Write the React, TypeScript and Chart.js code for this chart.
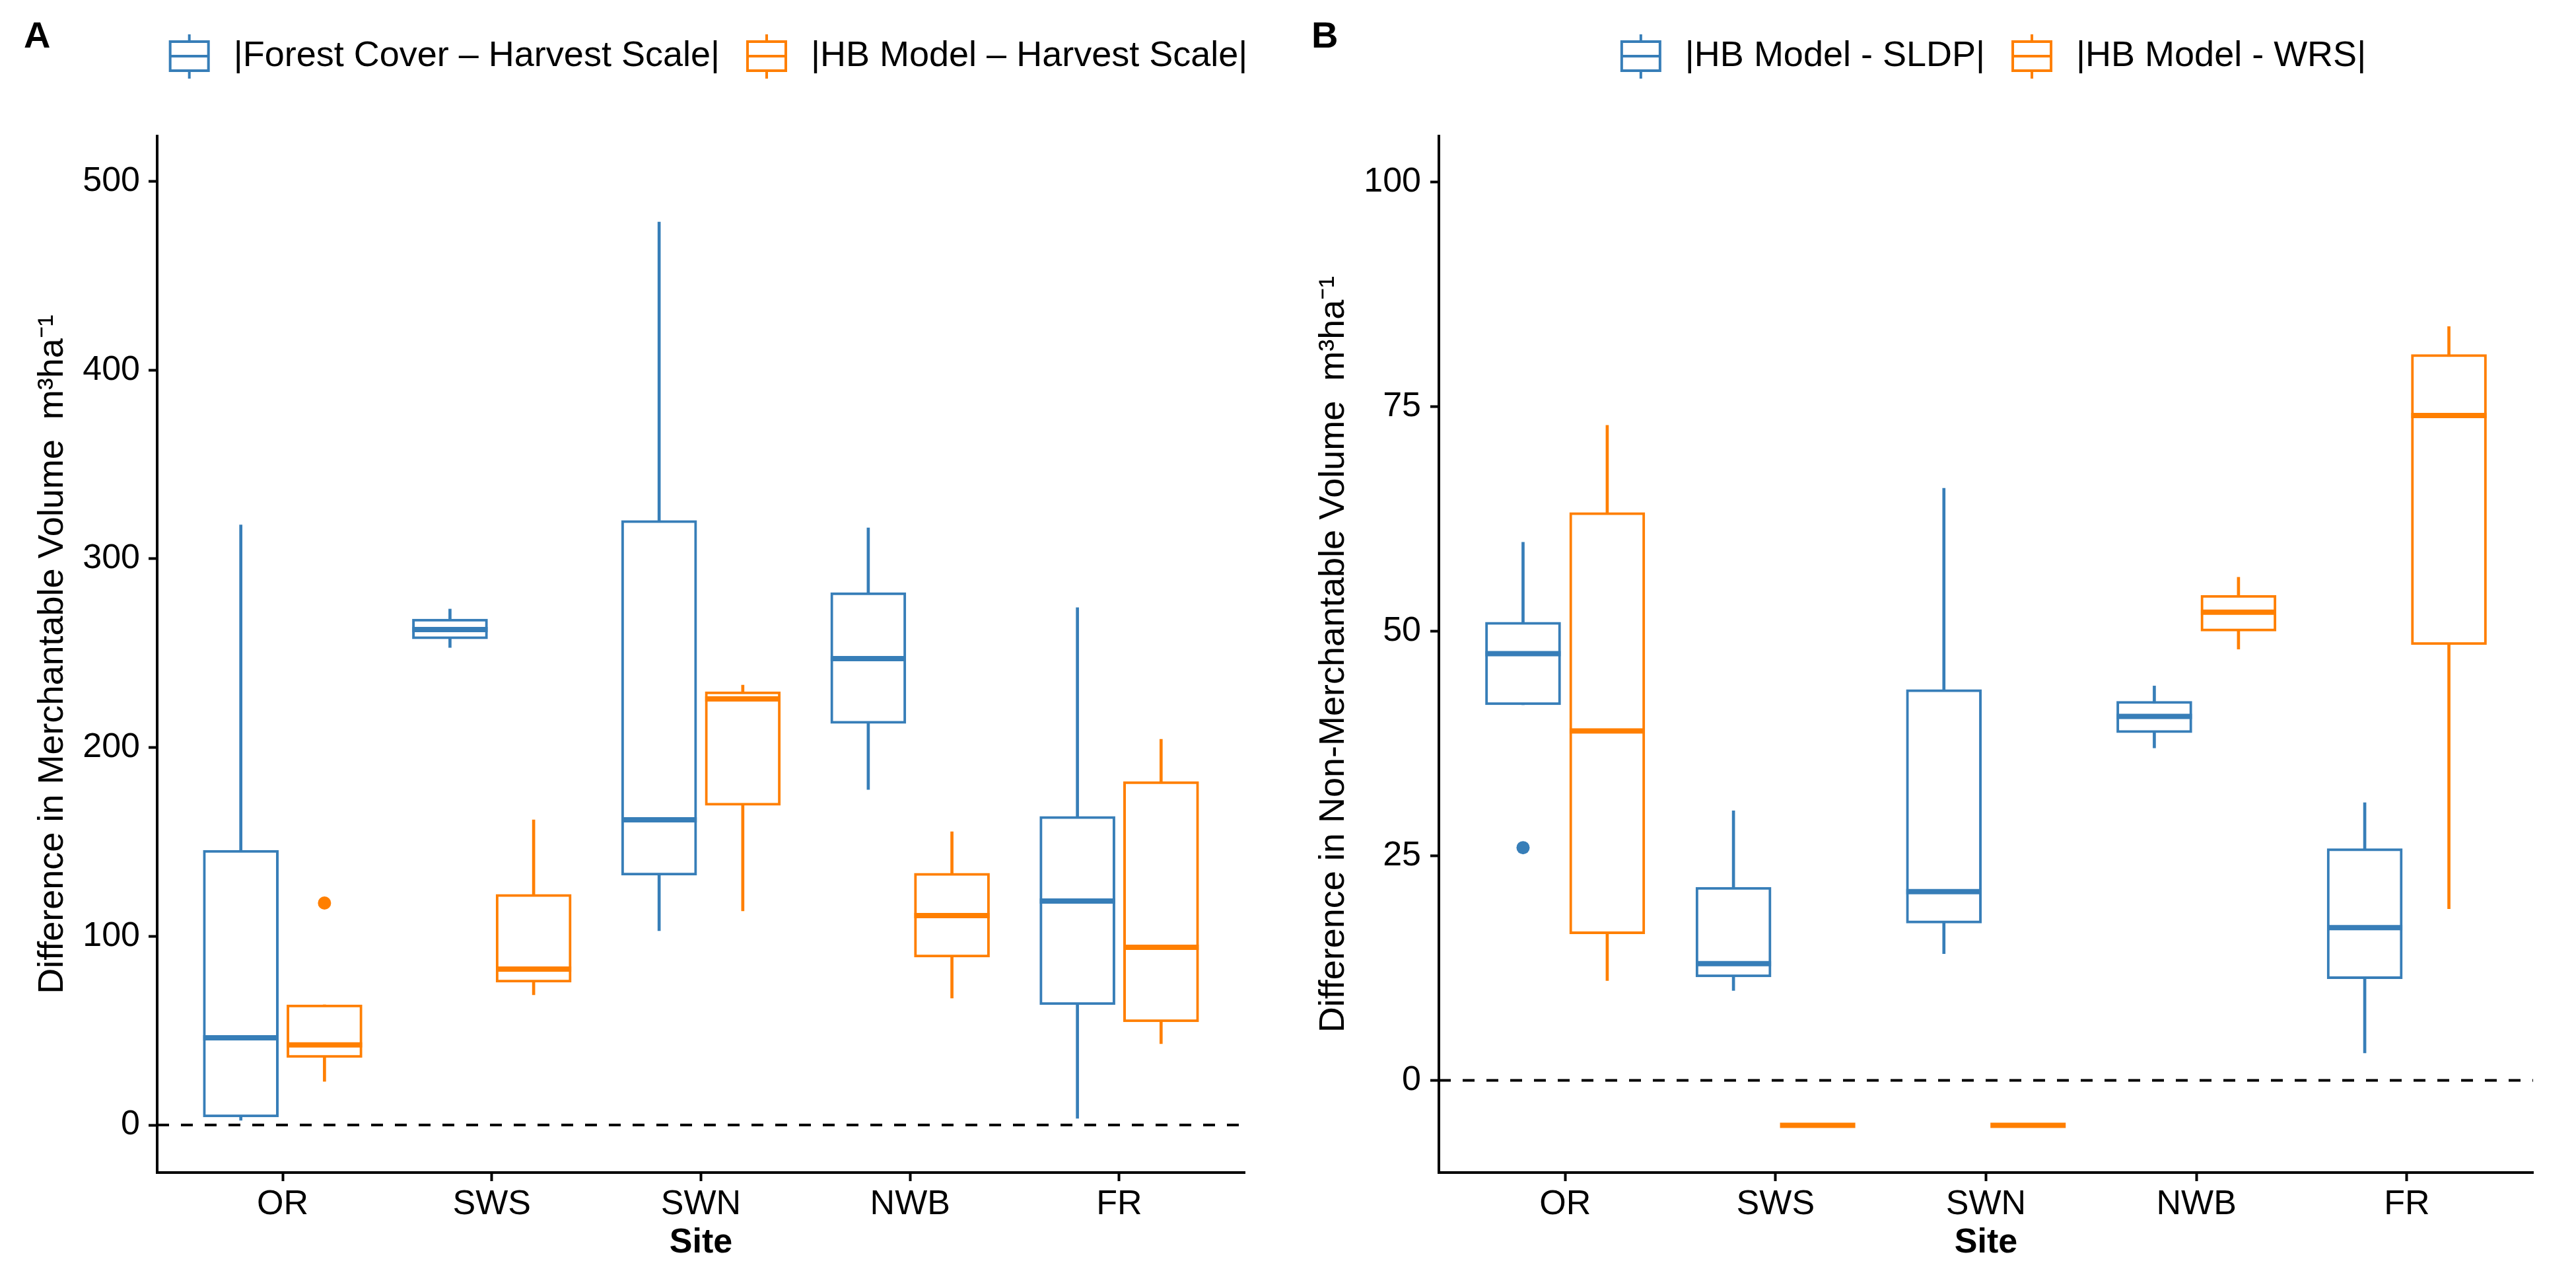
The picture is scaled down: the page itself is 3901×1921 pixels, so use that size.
import React, { useEffect, useRef } from "react";
import { Chart, registerables } from "chart.js";

Chart.register(...registerables);

const FONT = '"Liberation Sans", Arial, Helvetica, sans-serif';
const BLUE = "#377EB8";
const ORANGE = "#FF7F00";

// ---------- shared ----------
const sites = ["OR", "SWS", "SWN", "NWB", "FR"];

// ---------- Panel A : merchantable volume ----------
const aSeriesNames = ["|Forest Cover – Harvest Scale|", "|HB Model – Harvest Scale|"];
const aBlueMin = [2.5, 253, 102.9, 177.8, 3.5];
const aBlueQ1 = [4.2, 257.6, 132.3, 212.8, 63.7];
const aBlueMed = [46.2, 262.5, 161.7, 247.1, 118.7];
const aBlueQ3 = [145.6, 268.1, 320.3, 282.1, 163.5];
const aBlueMax = [318, 273.4, 478.5, 316.4, 274.1];
const aBlueOut: number[][] = [[], [], [], [], []];
const aOrangeMin = [23.1, 69, 113.4, 67.2, 43.1];
const aOrangeQ1 = [35.7, 75.6, 169.4, 88.9, 54.6];
const aOrangeMed = [42.4, 82.6, 225.8, 111, 94.2];
const aOrangeQ3 = [63.7, 122.2, 229.6, 133.4, 182];
const aOrangeMax = [63.7, 161.7, 233.1, 155.4, 204.4];
const aOrangeOut: number[][] = [[117.6], [], [], [], []];
const aYTicks = [0, 100, 200, 300, 400, 500];
const aYTitle = "Difference in Merchantable Volume  m³ha⁻¹";

// ---------- Panel B : non-merchantable volume ----------
const bSeriesNames = ["|HB Model - SLDP|", "|HB Model - WRS|"];
const bBlueMin = [41.8, 10.0, 14.1, 37.0, 3.05];
const bBlueQ1 = [41.8, 11.5, 17.5, 38.7, 11.3];
const bBlueMed = [47.5, 13.0, 21.0, 40.5, 17.0];
const bBlueQ3 = [51.0, 21.5, 43.5, 42.2, 25.8];
const bBlueMax = [59.9, 30.0, 65.9, 43.9, 30.9];
const bBlueOut: number[][] = [[25.9], [], [], [], []];
const bOrangeMin = [11.1, -5, -5, 48.0, 19.1];
const bOrangeQ1 = [16.3, -5, -5, 50.0, 48.5];
const bOrangeMed = [38.9, -5, -5, 52.1, 74.0];
const bOrangeQ3 = [63.2, -5, -5, 54.0, 80.8];
const bOrangeMax = [72.9, -5, -5, 56.0, 83.9];
const bOrangeOut: number[][] = [[], [], [], [], []];
const bYTicks = [0, 25, 50, 75, 100];
const bYTitle = "Difference in Non-Merchantable Volume  m³ha⁻¹";

const xLabel = "Site";

type Stats = { min: number[]; q1: number[]; med: number[]; q3: number[]; max: number[]; out: number[][] };

function boxDatasets(s: Stats, dx: number, color: string): any[] {
  const at = (i: number) => i + dx;
  return [
    {
      type: "bar",
      data: sites.map((_, i) => ({ x: at(i), y: [s.min[i], s.max[i]] })),
      backgroundColor: color,
      borderWidth: 0,
      barThickness: 4,
      grouped: false,
      order: 6,
    },
    {
      type: "bar",
      data: sites.map((_, i) => ({ x: at(i), y: [s.q1[i], s.q3[i]] })),
      backgroundColor: "#ffffff",
      borderColor: color,
      borderWidth: 4,
      borderSkipped: false,
      barThickness: 114,
      grouped: false,
      order: 4,
    },
    {
      type: "scatter",
      data: sites.map((_, i) => ({ x: at(i), y: s.med[i] })),
      pointStyle: "line",
      pointRadius: 57,
      pointHoverRadius: 57,
      borderColor: color,
      pointBorderColor: color,
      borderWidth: 8,
      pointBorderWidth: 8,
      order: 2,
    },
    {
      type: "scatter",
      data: s.out.flatMap((vals, i) => vals.map((v) => ({ x: at(i), y: v }))),
      pointStyle: "circle",
      pointRadius: 10,
      pointHoverRadius: 10,
      backgroundColor: color,
      borderColor: color,
      borderWidth: 0,
      order: 2,
    },
  ];
}

type PanelSpec = {
  letter: string;
  names: string[];
  blue: Stats;
  orange: Stats;
  yMin: number;
  yMax: number;
  yTicks: number[];
  yTitle: string;
  yWidth: number;
  titlePad: number;
  tickPad: number;
  padRight: number;
};

function decorPlugin(spec: PanelSpec) {
  return {
    id: "decor" + spec.letter,
    afterDraw(chart: any) {
      const ctx = chart.ctx as CanvasRenderingContext2D;
      const area = chart.chartArea;
      ctx.save();
      ctx.fillStyle = "#000";
      ctx.font = `bold 56px ${FONT}`;
      ctx.textBaseline = "alphabetic";
      ctx.textAlign = "left";
      ctx.fillText(spec.letter, 36, 72);

      ctx.font = `54px ${FONT}`;
      const iconW = 58;
      const gapIT = 38;
      const gapItems = 42;
      const colors = [BLUE, ORANGE];
      const widths = spec.names.map((n) => ctx.measureText(n).width);
      const total =
        widths.reduce((a, w) => a + iconW + gapIT + w, 0) + gapItems * (spec.names.length - 1);
      let x = (area.left + area.right) / 2 - total / 2 + 12;
      const cy = 85;
      spec.names.forEach((n, k) => {
        const cx = x + iconW / 2;
        ctx.strokeStyle = colors[k];
        ctx.lineWidth = 4;
        ctx.beginPath();
        ctx.moveTo(cx, 52);
        ctx.lineTo(cx, 119);
        ctx.stroke();
        ctx.fillStyle = "#fff";
        ctx.fillRect(x, 63, iconW, 44);
        ctx.strokeRect(x, 63, iconW, 44);
        ctx.beginPath();
        ctx.moveTo(x, cy);
        ctx.lineTo(x + iconW, cy);
        ctx.stroke();
        ctx.fillStyle = "#000";
        ctx.textBaseline = "middle";
        ctx.fillText(n, x + iconW + gapIT, cy);
        x += iconW + gapIT + widths[k] + gapItems;
      });
      ctx.restore();
    },
  };
}

function makeChart(canvas: HTMLCanvasElement, spec: PanelSpec) {
  const axisGrid = {
    display: true,
    drawOnChartArea: false,
    drawTicks: true,
    tickLength: 13,
    tickWidth: 4,
    tickColor: "#000",
  };
  const axisBorder = { display: true, color: "#000", width: 4 };
  const datasets: any[] = [
    {
      type: "line",
      data: [
        { x: -0.6, y: 0 },
        { x: sites.length - 0.4, y: 0 },
      ],
      borderColor: "#000",
      borderWidth: 4,
      borderDash: [18, 18],
      pointRadius: 0,
      fill: false,
      order: 10,
    },
    ...boxDatasets(spec.blue, -0.2, BLUE),
    ...boxDatasets(spec.orange, 0.2, ORANGE),
  ];
  return new Chart(canvas, {
    type: "scatter",
    data: { datasets },
    options: {
      responsive: false,
      animation: false,
      devicePixelRatio: 1,
      events: [],
      layout: { padding: { top: 206, left: 0, right: spec.padRight, bottom: 0 } },
      plugins: { legend: { display: false }, tooltip: { enabled: false }, title: { display: false } },
      scales: {
        x: {
          type: "linear",
          min: -0.6,
          max: sites.length - 0.4,
          offset: false,
          afterBuildTicks: (s: any) => {
            s.ticks = sites.map((_, i) => ({ value: i }));
          },
          afterFit: (s: any) => {
            s.height = 146;
          },
          ticks: {
            callback: (v: any) => sites[Math.round(Number(v))] ?? "",
            color: "#000",
            font: { family: FONT, size: 52 },
            padding: 4,
            autoSkip: false,
            maxRotation: 0,
            minRotation: 0,
          },
          grid: { ...axisGrid, offset: false },
          border: axisBorder,
          title: {
            display: true,
            text: xLabel,
            color: "#000",
            font: { family: FONT, size: 52, weight: "bold" },
            padding: { top: 0, bottom: 8 },
          },
        },
        y: {
          type: "linear",
          min: spec.yMin,
          max: spec.yMax,
          beginAtZero: false,
          afterBuildTicks: (s: any) => {
            s.ticks = spec.yTicks.map((v) => ({ value: v }));
          },
          afterFit: (s: any) => {
            s.width = spec.yWidth;
          },
          ticks: {
            color: "#000",
            font: { family: FONT, size: 52 },
            padding: spec.tickPad,
          },
          grid: axisGrid,
          border: axisBorder,
          title: {
            display: true,
            text: spec.yTitle,
            color: "#000",
            font: { family: FONT, size: 54 },
            padding: { top: spec.titlePad, bottom: 0 },
          },
        },
      },
    } as any,
    plugins: [decorPlugin(spec)],
  } as any);
}

const specA: PanelSpec = {
  letter: "A",
  names: aSeriesNames,
  blue: { min: aBlueMin, q1: aBlueQ1, med: aBlueMed, q3: aBlueQ3, max: aBlueMax, out: aBlueOut },
  orange: { min: aOrangeMin, q1: aOrangeQ1, med: aOrangeMed, q3: aOrangeQ3, max: aOrangeMax, out: aOrangeOut },
  yMin: -25.2,
  yMax: 524,
  yTicks: aYTicks,
  yTitle: aYTitle,
  yWidth: 238,
  titlePad: 48,
  tickPad: 13,
  padRight: 20,
};

const specB: PanelSpec = {
  letter: "B",
  names: bSeriesNames,
  blue: { min: bBlueMin, q1: bBlueQ1, med: bBlueMed, q3: bBlueQ3, max: bBlueMax, out: bBlueOut },
  orange: { min: bOrangeMin, q1: bOrangeQ1, med: bOrangeMed, q3: bOrangeQ3, max: bOrangeMax, out: bOrangeOut },
  yMin: -10.26,
  yMax: 105.1,
  yTicks: bYTicks,
  yTitle: bYTitle,
  yWidth: 229,
  titlePad: 38,
  tickPad: 14,
  padRight: 29,
};

export default function App() {
  const refA = useRef<HTMLCanvasElement | null>(null);
  const refB = useRef<HTMLCanvasElement | null>(null);
  useEffect(() => {
    const ca = makeChart(refA.current!, specA);
    const cb = makeChart(refB.current!, specB);
    return () => {
      ca.destroy();
      cb.destroy();
    };
  }, []);
  return (
    <div style={{ position: "absolute", left: 0, top: 0, width: 3901, height: 1921, background: "#fff", overflow: "hidden" }}>
      <canvas ref={refA} width={1950} height={1921} style={{ position: "absolute", left: 0, top: 0, width: 1950, height: 1921 }} />
      <canvas ref={refB} width={1951} height={1921} style={{ position: "absolute", left: 1950, top: 0, width: 1951, height: 1921 }} />
    </div>
  );
}
